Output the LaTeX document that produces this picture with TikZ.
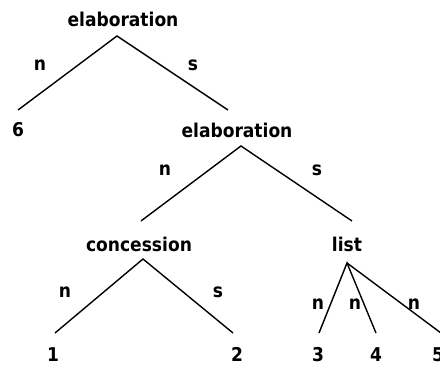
\documentclass[tikz,border=0pt]{standalone}
\usepackage{fontspec}
\setmainfont{DejaVu Sans Condensed}
\begin{document}
\begin{tikzpicture}[x=1pt,y=-1pt,
  lbl/.style={anchor=base,inner sep=0pt,font=\fontsize{19}{22}\selectfont\bfseries},
  edge/.style={line width=1.4pt}]
\useasboundingbox (0,0) rectangle (440,371);
% relation nodes
\node[lbl] (e1) at (123,27) {elaboration};
\node[lbl] (e2) at (237,138) {elaboration};
\node[lbl] (c) at (139,252) {concession};
\node[lbl] (l) at (347,252) {list};
% leaves
\node[lbl] (six) at (18,137) {6};
\node[lbl] (one) at (53,362) {1};
\node[lbl] (two) at (237,362) {2};
\node[lbl] (three) at (318,362) {3};
\node[lbl] (four) at (376,362) {4};
\node[lbl] (five) at (438,362) {5};
% branch points
\coordinate (a1) at (117,36);
\coordinate (a2) at (241,146);
\coordinate (a3) at (143,259);
\coordinate (a4) at (347,263);
\coordinate (b6) at (18,110);
\coordinate (be) at (228,110);
\coordinate (bc) at (141,221);
\coordinate (bl) at (352,221);
\coordinate (b1) at (55,333);
\coordinate (b2) at (233,333);
\coordinate (b3) at (319,333);
\coordinate (b4) at (376,333);
\coordinate (b5) at (441,333);
% edges
\draw[edge] (b6) -- (a1) -- (be);
\draw[edge] (bc) -- (a2) -- (bl);
\draw[edge] (b1) -- (a3) -- (b2);
\draw[edge] (b3) -- (a4) -- (b4);
\draw[edge] (a4) -- (b5);
% nuclearity labels
\node[lbl] (n1) at (40,71) {n};
\node[lbl] (s1) at (193,71) {s};
\node[lbl] (n2) at (165,176) {n};
\node[lbl] (s2) at (317,176) {s};
\node[lbl] (n3) at (65,298) {n};
\node[lbl] (s3) at (218,298) {s};
\node[lbl] (n4) at (318,310) {n};
\node[lbl] (n5) at (355,310) {n};
\node[lbl] (n6) at (414,310) {n};
\end{tikzpicture}
\end{document}
